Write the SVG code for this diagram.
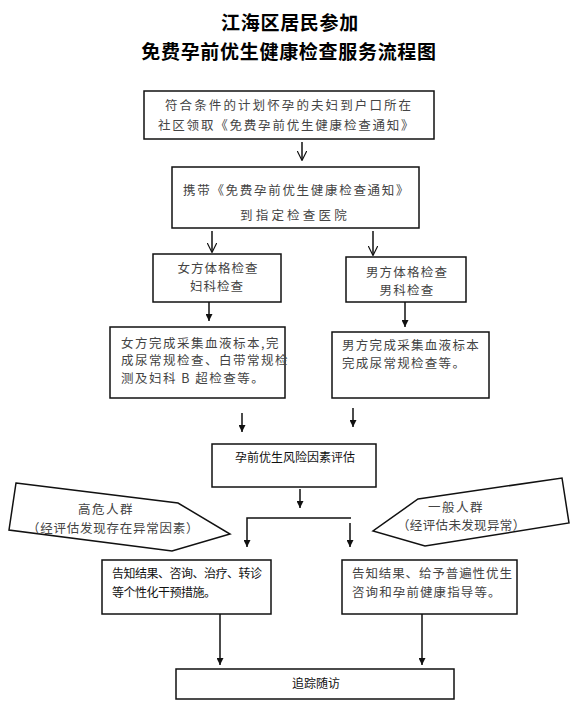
<svg xmlns="http://www.w3.org/2000/svg" width="584" height="719" viewBox="0 0 584 719">
<style>
  text { font-family: "Noto Sans CJK SC", "Noto Sans", sans-serif; }
  .title { font-size: 19px; font-weight: bold; fill: #000; letter-spacing: 0.7px; text-anchor: middle; }
  .box { fill: #fff; stroke: #111; stroke-width: 1.5; }
  .gt { font-size: 12.5px; fill: #444; }
  .bt { font-size: 12px; fill: #111; }
  .conn { stroke: #111; stroke-width: 1.5; fill: none; }
</style>
<defs>
  <marker id="openV" viewBox="0 0 10 10" refX="9.5" refY="5" markerWidth="10" markerHeight="10" markerUnits="userSpaceOnUse" orient="auto">
    <path d="M0,0 L10,5 L0,10" fill="none" stroke="#111" stroke-width="1.2"/>
  </marker>
  <marker id="fill" viewBox="0 0 10 10" refX="10" refY="5" markerWidth="7" markerHeight="7" markerUnits="userSpaceOnUse" orient="auto">
    <path d="M0,0 L10,5 L0,10 Z" fill="#111"/>
  </marker>
</defs>
<rect width="584" height="719" fill="#fff"/>

<g id="title">
  <text class="title" x="290" y="30">江海区居民参加</text>
  <text class="title" x="289" y="59">免费孕前优生健康检查服务流程图</text>
</g>

<g id="n1">
  <rect class="box" x="144" y="91" width="290" height="48" stroke="#333"/>
  <text class="gt" x="165" y="109.5" letter-spacing="2.1">符合条件的计划怀孕的夫妇到户口所在</text>
  <text class="gt" x="158" y="129.5" letter-spacing="1.8">社区领取《免费孕前优生健康检查通知》</text>
</g>

<g id="n2">
  <rect class="box" x="172" y="167" width="247" height="61" stroke-width="2.5"/>
  <text class="gt" x="183" y="194.5" letter-spacing="1.7" fill="#222">携带《免费孕前优生健康检查通知》</text>
  <text class="gt" x="240" y="219.5" letter-spacing="3.2" fill="#222">到指定检查医院</text>
</g>

<g id="n3">
  <rect class="box" x="153" y="254" width="128" height="48"/>
  <text class="gt" x="218" y="272.5" letter-spacing="1" text-anchor="middle">女方体格检查</text>
  <text class="gt" x="217" y="290.5" letter-spacing="1" text-anchor="middle">妇科检查</text>
</g>

<g id="n4">
  <rect class="box" x="346" y="257" width="120" height="45"/>
  <text class="gt" x="407" y="276.5" letter-spacing="1.2" text-anchor="middle">男方体格检查</text>
  <text class="gt" x="407" y="294.5" letter-spacing="1.2" text-anchor="middle">男科检查</text>
</g>

<g id="n5">
  <rect class="box" x="110" y="327" width="175" height="71" stroke-width="2"/>
  <text class="gt" x="121" y="347.5" font-size="12" letter-spacing="1.5">女方完成采集血液标本,完</text>
  <text class="gt" x="121" y="365" font-size="12" letter-spacing="1.5">成尿常规检查、白带常规检</text>
  <text class="gt" x="121" y="382.5" font-size="12" letter-spacing="1.5">测及妇科 B 超检查等。</text>
</g>

<g id="n6">
  <rect class="box" x="332" y="332" width="157" height="66" stroke-width="2"/>
  <text class="gt" x="342" y="349.5" letter-spacing="1.3">男方完成采集血液标本</text>
  <text class="gt" x="342" y="367.5" letter-spacing="1.3">完成尿常规检查等。</text>
</g>

<g id="n7">
  <rect class="box" x="212" y="444" width="164" height="43"/>
  <text class="bt" x="235" y="461.5">孕前优生风险因素评估</text>
</g>

<g id="n8">
  <polygon class="box" points="16,483 178,503 230,534 172,551 9,530"/>
  <text class="gt" x="106" y="513.5" font-size="12" letter-spacing="1.5" text-anchor="middle">高危人群</text>
  <text class="gt" x="27" y="532.5" font-size="12" letter-spacing="0.75">（经评估发现存在异常因素）</text>
</g>

<g id="n9">
  <polygon class="box" points="418,499 562,478 569,523 425,546 373,531"/>
  <text class="gt" x="456" y="511.5" font-size="12" letter-spacing="1.5" text-anchor="middle">一般人群</text>
  <text class="gt" x="397" y="529.5" font-size="12" letter-spacing="0.35">（经评估未发现异常）</text>
</g>

<g id="n10">
  <rect class="box" x="102" y="560" width="169" height="54" stroke-width="2"/>
  <text class="bt" x="112" y="577.5" letter-spacing="-0.5">告知结果、咨询、治疗、转诊</text>
  <text class="bt" x="112" y="596.5" letter-spacing="-0.5">等个性化干预措施。</text>
</g>

<g id="n11">
  <rect class="box" x="342" y="560" width="175" height="54" stroke-width="2"/>
  <text class="gt" x="352" y="577.5" font-size="12" letter-spacing="0.9">告知结果、给予普遍性优生</text>
  <text class="gt" x="352" y="596.5" font-size="12" letter-spacing="1.1">咨询和孕前健康指导等。</text>
</g>

<g id="n12">
  <rect class="box" x="176" y="669" width="278" height="30" stroke-width="2"/>
  <text class="bt" x="292" y="687.5">追踪随访</text>
</g>

<g id="connectors">
  <line class="conn" x1="302" y1="142" x2="302" y2="160" marker-end="url(#openV)"/>
  <line class="conn" x1="212" y1="231" x2="212" y2="252" marker-end="url(#openV)"/>
  <line class="conn" x1="373" y1="231" x2="373" y2="255" marker-end="url(#openV)"/>
  <line class="conn" x1="209" y1="302" x2="209" y2="321" marker-end="url(#fill)"/>
  <line class="conn" x1="405" y1="302" x2="405" y2="327" marker-end="url(#fill)"/>
  <line class="conn" x1="242" y1="413" x2="242" y2="432" marker-end="url(#fill)"/>
  <line class="conn" x1="353" y1="408" x2="353" y2="427" marker-end="url(#fill)"/>
  <line class="conn" x1="300" y1="489" x2="300" y2="508" marker-end="url(#fill)"/>
  <polyline class="conn" points="351,518 247,518 247,547" marker-end="url(#fill)"/>
  <line class="conn" x1="350" y1="523" x2="350" y2="547" marker-end="url(#fill)"/>
  <line class="conn" x1="220" y1="614" x2="220" y2="665" marker-end="url(#fill)"/>
  <line class="conn" x1="422" y1="614" x2="422" y2="665" marker-end="url(#fill)"/>
</g>
</svg>
